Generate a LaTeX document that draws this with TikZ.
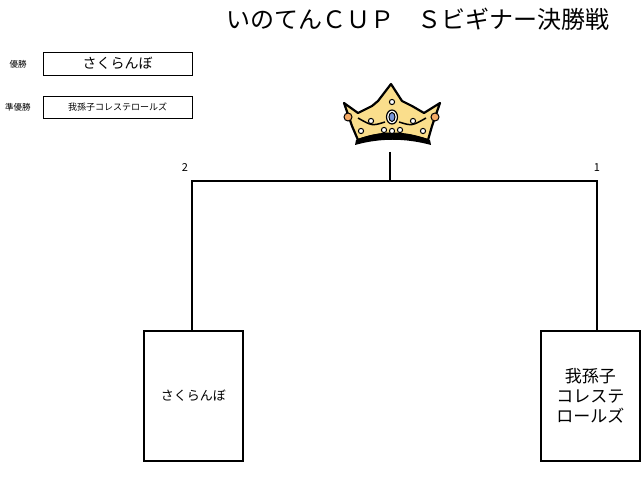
\documentclass[tikz,border=0pt]{standalone}
\usepackage{fontspec}
\newfontfamily\jp{Noto Sans CJK JP}
\tikzset{lbl/.style={font=\jp\fontsize{8.5}{9}\selectfont},
 namebox/.style={draw,line width=1.6pt,font=\jp\fontsize{13}{13}\selectfont,align=center},
 br/.style={line width=1.1pt}}
\begin{document}
\begin{tikzpicture}[x=1pt,y=-1pt]
\useasboundingbox (0,0) rectangle (641,478);
\node[font=\jp\fontsize{24}{26}\selectfont] (title) at (418,19) {いのてんＣＵＰ　Ｓビギナー決勝戦};
\node[lbl] (l1) at (18,64) {優勝};
\node[namebox,line width=0.9pt,minimum width=149pt,minimum height=23pt,font=\jp\fontsize{14}{14}\selectfont] (w1) at (117.5,63.5) {さくらんぼ};
\node[lbl] (l2) at (18,107) {準優勝};
\node[namebox,line width=0.9pt,minimum width=149pt,minimum height=22pt,font=\jp\fontsize{9}{9}\selectfont] (w2) at (117.5,107) {我孫子コレステロールズ};
% crown
\draw[line width=2.2pt,fill={rgb,255:red,250;green,222;blue,140},line join=round]
 (344,103) -- (358,113) -- (372,106) -- (378,101) -- (391,84) -- (402,101) -- (412,106) -- (424,113) -- (440,103)
 -- (432,126) -- (428,140) .. controls (400,132) and (380,132) .. (358,140) -- (352,126) -- cycle;
\fill (356,140) .. controls (380,130) and (405,130) .. (430,140) -- (431,145) .. controls (405,138) and (380,138) .. (355,145) -- cycle;
\draw[line width=1.5pt] (358,118) .. controls (372,126) .. (385,122);
\draw[line width=1.5pt] (426,118) .. controls (412,126) .. (399,122);
\draw[line width=1.2pt,fill=white] (392,117) ellipse (5.5 and 7);
\draw[line width=1pt,fill={rgb,255:red,120;green,150;blue,220}] (392,117) ellipse (3 and 4.5);
\foreach \p in {(392,102),(392,131),(384,130),(400,130),(361,131),(423,131),(371,121),(413,121)}
 \draw[line width=1pt,fill=white] \p circle (2.6);
\draw[line width=1pt,fill={rgb,255:red,245;green,170;blue,100}] (348,117) circle (4);
\draw[line width=1pt,fill={rgb,255:red,245;green,170;blue,100}] (435,117) circle (4);
% bracket
\coordinate (top) at (390,152);
\coordinate (tj) at (390,181);
\coordinate (lj) at (192,181);
\coordinate (rj) at (597,181);
\node[namebox,minimum width=99pt,minimum height=130pt,anchor=north west] (a) at (143,330) {さくらんぼ};
\node[namebox,minimum width=99pt,minimum height=130pt,anchor=north west,font=\jp\fontsize{17}{20}\selectfont] (b) at (540,330) {我孫子\\コレステ\\ロールズ};
\draw[br] (top) -- (tj);
\draw[br] (a.north -| lj) -- (lj) -- (rj) -- (b.north -| rj);
\node[font=\jp\fontsize{11}{11}\selectfont] (s2) at (185,168) {2};
\node[font=\jp\fontsize{11}{11}\selectfont] (s1) at (597,168) {1};
\end{tikzpicture}
\end{document}
